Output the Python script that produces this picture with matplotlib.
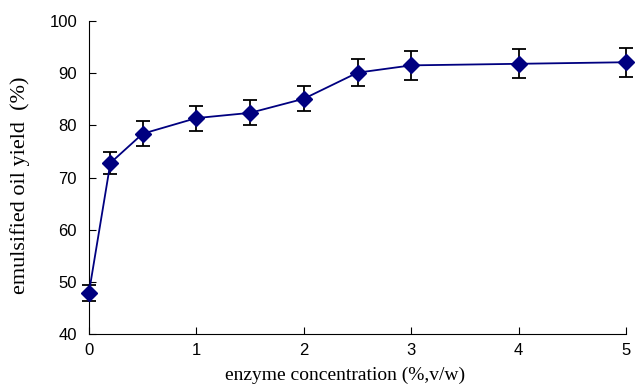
import matplotlib
matplotlib.use("Agg")
import matplotlib.pyplot as plt

conc = [0, 0.2, 0.5, 1, 1.5, 2, 2.5, 3, 4, 5]
oil_yield = [47.9, 72.8, 78.4, 81.4, 82.4, 85.1, 90.1, 91.5, 91.8, 92.1]
err = [1.6, 2.1, 2.4, 2.4, 2.4, 2.4, 2.6, 2.8, 2.8, 2.8]
xticks = [0, 1, 2, 3, 4, 5]
yticks = [40, 50, 60, 70, 80, 90, 100]

fig = plt.figure(figsize=(6.35, 3.89), dpi=100)
ax = fig.add_axes([0.140, 0.141, 0.846, 0.805])

ax.errorbar(conc, oil_yield, yerr=err, color="#000080", marker="D", ms=8,
            lw=1.3, ecolor="black", elinewidth=1.3, capsize=5, capthick=1.3,
            clip_on=False, zorder=3)

ax.set_xlim(0, 5)
ax.set_ylim(40, 100)
ax.set_xticks(xticks)
ax.set_yticks(yticks)
ax.spines["top"].set_visible(False)
ax.spines["right"].set_visible(False)
ax.tick_params(direction="in", length=5, labelsize=12)
ax.tick_params(axis="x", pad=6.5)
ax.tick_params(axis="y", pad=8.5)
for lab in ax.get_xticklabels() + ax.get_yticklabels():
    lab.set_family("Liberation Sans")

ax.set_xlabel("enzyme concentration (%,v/w)", family="Liberation Serif",
              fontsize=14)
ax.set_ylabel("emulsified oil yield  (%)", family="Liberation Serif",
              fontsize=16)
ax.xaxis.set_label_coords(0.477, -0.105)
ax.yaxis.set_label_coords(-0.11, 0.476)

fig.savefig("out.png", dpi=100)
